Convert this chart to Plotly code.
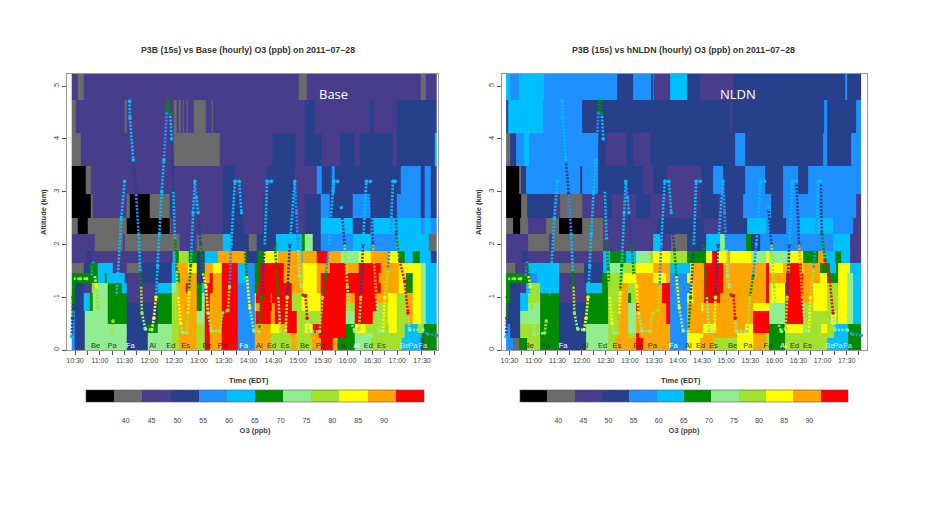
import plotly.graph_objects as go

# O3 classes, lowest to highest
class_keys = "KGPNBLDMVYOR"
class_colors = ["#000000", "#6b6b6b", "#483D8B", "#27408B", "#1E90FF", "#00BFFF",
                "#008B00", "#90EE90", "#A2E22F", "#FFFF00", "#FFA500", "#FF0000"]
cbar_labels = ["40", "45", "50", "55", "60", "65", "70", "75", "80", "85", "90"]

# altitude layer edges (km), bottom to top
alt_edges = [0, 0.22, 0.32, 0.5, 0.73, 0.89, 1.08, 1.27, 1.46, 1.65, 1.88, 2.19, 2.5, 2.95, 3.48, 4.11, 4.73, 5.23]
time_end = 468  # minutes after 10:00

# each row: class letter + start minute after 10:00; rows top to bottom
base_rows = [
 "P26 G33 P41 G301 P310 G449 P455",
 "G26 P31 G90 P92 G150 P153 G155 P158 G160 P162 G165 P167 G174 P188 G195 P197 N308 P320 N387 P392 N419",
 "G26 P37 G150 P205 N269 P297 N308 P329 N350 P368 N375 P415 N419 L465",
 "K26 G43 P49 N209 P223 N262 P296 B322 N329 B341 N344 B424 N449 B453 N461",
 "K26 G49 P52 G92 K96 G121 N145 P149 N209 P233 N257 P298 N308 N328 B328 N338 B366 N388 B419 N449 B453 N461",
 "G26 K33 G45 K92 G145 P146 N209 P233 N257 P298 N308 L328 N366 L388 L419 B449 L453 B461",
 "P26 G54 P88 G90 P157 P157 G177 L209 N218 G240 N250 L273 D304 M308 N318 B328 L366 B388 L419 G458",
 "P26 N44 P50 L148 D152 V156 D168 N177 L187 O203 N237 D251 Y259 O275 L304 O306 R322 O336 M352 Y374 O388 Y410 D422 L429 D439 L447 N461",
 "G26 N40 D48 L58 P76 G92 N110 L147 O152 Y167 N177 O187 Y197 R207 L227 B237 D247 R253 O283 Y306 O322 R338 O358 R374 O400 Y422 M449 L455",
 "D26 L58 D66 L68 P90 N110 N130 L147 D153 O157 N177 O187 R193 O197 R207 L227 B237 D247 R253 O283 Y306 O322 R328 R358 O398 Y422 D430 Y439 M449 L455",
 "D26 N30 P40 V50 M54 D70 L86 P92 L130 M147 O153 R164 O167 D177 L183 R187 O197 R207 B227 D247 R251 R283 O292 Y306 O322 R328 R358 R398 O400 Y422 D430 Y439 M449 L455",
 "D26 N30 L40 D48 M52 D70 P92 D130 V147 O153 D177 M183 R187 O193 R207 B227 Y247 R249 O267 R268 V292 Y304 R328 O358 R368 O395 Y408 M419 V420 O431 Y439 M449 L455",
 "N30 L40 D48 M52 D70 N92 D130 V147 O153 D177 M183 R187 O193 R207 B227 Y247 O249 R253 O268 R272 V292 Y304 R328 V358 R368 V395 Y408 V419 O431 Y439 M449 L455",
 "B26 N30 M42 D70 N92 D130 V147 O155 M177 R187 O193 R207 B227 O247 R249 O267 R272 V298 R328 M358 R368 V390 Y408 V419 O431 Y439 M449 L455",
 "B26 N30 M42 M70 N92 D118 M130 V147 O155 V177 R187 O193 R207 B227 O247 Y267 O278 R286 V298 Y308 R318 D358 Y368 V382 Y410 V419 L429 V445 D452",
 "B26 N30 M42 M70 N92 M118 V147 O155 V177 R187 O193 R207 B227 O247 V267 O290 V298 O315 R325 D358 M368 V390 L429 D450",
 "B26 N30 M42 N92 M118 V147 O155 V177 R187 O193 R207 B227 O247 V267 O292 V298 O316 R328 O342 D348 M368 V388 L426 N449 D452",
]

nldn_rows = [
 "L26 B31 L42 B73 N164 B184 N207 B209 N210 P211 L230 N251 P267 N309 B448 N451",
 "N26 L28 B72 N121 P305 N307 B422 N425 B462",
 "G26 N31 B39 L48 B55 N141 P151 N176 P184 N205 B311 N323 B421 N426 B456",
 "K26 G42 N45 B51 N118 B121 N141 P197 N209 P226 N269 B284 N296 B323 N348 B371 N390 B402",
 "K26 G45 N52 P85 G93 P120 N147 P158 N188 P205 N269 P290 N300 B321 N356 B371 P462",
 "G26 K35 G43 G53 P53 G76 K92 G120 P147 N214 N270 P271 N300 L326 B350 N355 B375 L392 B433 P458",
 "P26 G53 P79 G84 P147 L209 P218 G232 N251 L275 M292 B298 D325 N331 B342 B375 L433 P454",
 "P26 N46 P54 L147 D155 L176 M188 V205 Y209 V230 D251 Y275 R283 Y289 O301 Y305 M331 Y350 M354 Y379 D396 O415 L423 D436 L443 P454",
 "G26 P37 L53 G92 N123 L147 M155 V172 Y188 O209 L230 Y255 O259 R272 O296 R350 Y354 O371 R379 Y394 O396 D417 L429 D437 Y439 L454",
 "D26 B56 L64 P92 N123 D145 V155 Y172 O188 Y209 O225 B230 Y251 O257 R272 O296 R350 O354 R375 O396 Y417 D425 Y439 M450 L458",
 "D26 N31 P43 L51 V57 L68 P92 L126 D145 V153 O168 V178 O188 R220 B230 Y255 O259 R272 O296 R350 Y354 R373 O396 Y408 V425 Y439 M450 L458",
 "D26 N31 L43 V53 D68 P92 D126 V153 O168 D178 V182 O188 R220 B230 Y251 O259 R272 O292 R350 Y354 R373 O396 Y408 V425 Y439 M450 L458",
 "N31 L43 M53 D68 N92 D126 V153 O164 M178 R188 O192 R225 B230 O251 Y269 O271 Y334 M354 R373 V396 Y408 V425 Y439 M450 L458",
 "N31 M43 D68 N92 D126 V153 O164 M178 O188 R225 B230 O251 O271 R334 M354 R373 V396 Y430 V437 Y439 M450 L458",
 "B26 N31 V43 D68 N92 M126 V153 O164 M178 O188 B230 O251 Y271 O288 Y323 R334 D354 Y373 V396 Y418 V425 L434 D452",
 "B26 N31 V43 D68 N92 M126 V153 O164 V178 R188 O192 B230 Y251 O271 Y314 O333 V350 D354 V373 V420 L434 D452",
 "B26 G35 D42 V52 D68 N92 M126 V153 O162 V188 R188 O197 B230 Y251 O268 V285 Y314 O333 V350 D354 V373 L425 D452",
]

# flight track: minute after 10:00, altitude km (None = gap), class letter
track = [
 (26,.25,"L"),(27,.6,"N"),(27.5,1.0,"D"),(28.5,1.35,"D"),(36,1.35,"V"),(44,1.35,"M"),(50,1.35,"D"),(52,1.65,"B"),(54,1.4,"D"),(56,1.2,"Y"),(58,.8,"V"),(61,.3,"M"),(74,.32,"M"),(76,.55,"V"),(80,1.0,"D"),(82,1.45,"L"),(86,2.5,"L"),(90,3.2,"L"),(91,None,"L"),
 (96,4.72,"L"),(96.5,4.4,"L"),(100.5,3.6,"L"),(104,2.95,"N"),(107,2.2,"B"),(109,1.5,"L"),(110,1.2,"D"),(111,.7,"V"),(115,.4,"M"),(123,.38,"M"),(125.5,.6,"Y"),(128,1.0,"Y"),(130,1.6,"L"),(132,2.2,"L"),(135,3,"L"),(137.6,3.6,"L"),(141,4.5,"B"),(142.5,4.72,"D"),(145,4.5,"D"),(147,4,"L"),(149,3,"N"),(151,2.1,"L"),(153,1.5,"D"),(155,1.0,"V"),(158,.5,"Y"),(160,.33,"M"),(165,.33,"M"),(167,.7,"V"),(168,1.1,"Y"),(170,1.6,"D"),(173,2.6,"L"),(175,3.2,"L"),(177,2.9,"B"),(179,2.6,"L"),(182,2.0,"N"),(185,1.45,"D"),(188.5,1.2,"Y"),(191,.7,"Y"),(195,.36,"M"),(205,.36,"M"),(208.5,.7,"V"),(215,.75,"V"),(217,1.2,"V"),(219,2,"B"),(223.5,3.2,"L"),(228.7,3.2,"L"),(231.5,2.6,"L"),(235.5,1.9,"N"),(238,1.4,"D"),(241.5,.8,"Y"),(246.4,.36,"M"),(253,.36,"M"),(255.7,1.0,"D"),(259.7,2.0,"N"),(262.5,3.2,"L"),(267.8,3.2,"L"),(272,2.0,"N"),(276,1.0,"D"),(278.6,.36,"M"),(285,.36,"M"),(286.7,1.0,"Y"),(290,2.0,"N"),(296,3.2,"L"),(298,2.6,"B"),(300,1.9,"B"),(302,1.4,"M"),(304,1.2,"M"),(305,None,"M"),
 (306,1.04,"D"),(309,1.03,"R"),(311,.6,"R"),(313,.35,"M"),(326,.35,"M"),(329.5,1.0,"V"),(333.5,1.4,"D"),(337.5,2.0,"B"),(343,3.2,"L"),(348,3.2,"L"),(349,None,"L"),(352.4,2.7,"L"),(356.4,2,"N"),(359.7,1.2,"V"),(362.5,.6,"M"),(368.5,.35,"M"),(373.8,.4,"M"),(375.8,1.0,"V"),(378.6,2,"N"),(382.6,3.2,"L"),(387.5,3.2,"L"),(390.7,2,"N"),(394.7,1.0,"O"),(398.7,.35,"M"),(402.8,.35,"M"),(404.8,1.0,"Y"),(408.8,1.5,"V"),(412.9,2.5,"B"),(414.9,3.2,"L"),(417.7,3.2,"L"),(419,2.2,"N"),(423,1.7,"D"),(429,1.3,"R"),(433,.7,"R"),(435,.38,"M"),(451,.38,"M"),(457,.3,"B"),(468,.28,"B"),
]

# overflight labels
site_minutes = [55, 75, 97, 124, 146, 164, 190, 208, 234, 253, 268, 284, 308, 327, 352, 371, 385, 401, 429, 439, 451]
site_names = ["Be", "Pa", "Fa", "Al", "Ed", "Es", "Be", "Pa", "Fa", "Al", "Ed", "Es", "Be", "Pa", "Fa", "Al", "Ed", "Es", "Be", "Pa", "Fa"]
site_colors = ["#333", "#333", "#fff", "#333", "#333", "#333", "#333", "#333", "#fff", "#333", "#333", "#333",
               "#333", "#333", "#333", "#fff", "#333", "#333", "#ddf", "#ddf", "#ddf"]

time_ticks = list(range(30, 466, 15))
time_labels = [f"{10 + t // 60}:{t % 60:02d}" if t % 30 == 0 else "" for t in time_ticks]

# the page has an 8px body margin, so the figure itself starts 8px in
W, H = 912, 506
OX, OY = 8, 8
FONT = "Liberation Sans"
GREY = "#555555"
n_classes = len(class_colors)
scale = []
for i, c in enumerate(class_colors):
    scale += [[i / n_classes, c], [(i + 1) / n_classes, c]]


def px(x):
    return (x - OX) / W


def py(y):
    return 1 - (y - OY) / H


def parse(row):
    return [(int(tok[1:]), class_keys.index(tok[0])) for tok in row.split()]


def grid(rows):
    parsed = [parse(r) for r in rows][::-1]
    edges = sorted({t for r in parsed for t, _ in r} | {26, time_end})
    z = []
    for r in parsed:
        line = []
        for a in edges[:-1]:
            cur = r[0][1]
            for t, c in r:
                if t <= a:
                    cur = c
            line.append(cur + 0.5)
        z.append(line)
    return edges, z


fig = go.Figure()
panels = [
    dict(rows=base_rows, box=(67, 438), rng=(20.3, 469.4), cb=(86, 424), tick=(125.7, 384), ax=("x", "y"),
         title="P3B (15s) vs Base (hourly) O3 (ppb) on 2011−07−28", tx=248, note="Base", nx=333),
    dict(rows=nldn_rows, box=(502, 866.7), rng=(20.9, 474.9), cb=(520, 848), tick=(558.3, 809.3), ax=("x2", "y2"),
         title="P3B (15s) vs hNLDN (hourly) O3 (ppb) on 2011−07−28", tx=683, note="NLDN", nx=738),
]
top, bottom = 74, 350
annotations = []
for k, p in enumerate(panels):
    xa, ya = p["ax"]
    edges, z = grid(p["rows"])
    x0, x1 = p["cb"]
    unit = (x1 - x0) / n_classes
    spacing = (p["tick"][1] - p["tick"][0]) / (len(cbar_labels) - 1)
    tickvals = [(p["tick"][0] + i * spacing - x0) / unit for i in range(len(cbar_labels))]
    fig.add_trace(go.Heatmap(
        x=edges, y=alt_edges, z=z, zmin=0, zmax=n_classes, colorscale=scale, xaxis=xa, yaxis=ya,
        hoverinfo="skip",
        colorbar=dict(orientation="h", x=px((x0 + x1) / 2), xanchor="center", y=py(390), yanchor="top",
                      len=x1 - x0, lenmode="pixels", thickness=12, thicknessmode="pixels", xpad=0, ypad=0,
                      tickmode="array", tickvals=tickvals, ticktext=cbar_labels, ticks="outside", ticklen=13,
                      tickcolor="rgba(255,255,255,0)", tickfont=dict(size=7, color="#444", family=FONT),
                      outlinecolor="#555", outlinewidth=0.6,
                      title=dict(text="<b>O3 (ppb)</b>", side="bottom", font=dict(size=7.5, color="#444", family=FONT))),
    ))
    # track: one dotted line trace and one marker trace per class
    for c_idx, key in enumerate(class_keys):
        lx, ly, mx, my = [], [], [], []
        for i, (t, a, c) in enumerate(track):
            if a is None or c != key:
                continue
            mx.append(t)
            my.append(a)
            if i > 0 and track[i - 1][1] is not None:
                lx += [track[i - 1][0], t, None]
                ly += [track[i - 1][1], a, None]
        if not mx:
            continue
        fig.add_trace(go.Scatter(x=lx, y=ly, mode="lines", xaxis=xa, yaxis=ya, showlegend=False, hoverinfo="skip",
                                 line=dict(color=class_colors[c_idx], width=2.6, dash="2px,1.5px")))
        fig.add_trace(go.Scatter(x=mx, y=my, mode="markers", xaxis=xa, yaxis=ya, showlegend=False, hoverinfo="skip",
                                 marker=dict(color=class_colors[c_idx], size=3.5)))
    fig.add_trace(go.Scatter(x=site_minutes, y=[0.08] * len(site_minutes), text=site_names, mode="text",
                             xaxis=xa, yaxis=ya, showlegend=False, hoverinfo="skip",
                             textfont=dict(size=7.5, color=site_colors, family=FONT)))
    suffix = "" if k == 0 else "2"
    fig.update_layout({
        "xaxis" + suffix: dict(domain=[px(p["box"][0]), px(p["box"][1])], range=list(p["rng"]), anchor=ya,
                               tickmode="array", tickvals=time_ticks, ticktext=time_labels, ticks="outside", ticklen=4,
                               tickcolor=GREY, tickwidth=0.8, showline=True, linecolor="#999", mirror=True, linewidth=1,
                               showgrid=False, zeroline=False, tickangle=0,
                               tickfont=dict(size=7, color="#444", family=FONT)),
        "yaxis" + suffix: dict(domain=[py(bottom), py(top)], range=[0, 5.23], anchor=xa,
                               tickmode="array", tickvals=[0, 1, 2, 3, 4, 5], ticktext=["0", "1", "2", "3", "4", "5"],
                               ticks="outside", ticklen=4, tickcolor=GREY, tickwidth=0.8, tickangle=-90,
                               showline=True, linecolor="#999", mirror=True, linewidth=1, showgrid=False, zeroline=False,
                               tickfont=dict(size=7.5, color="#444", family=FONT)),
    })
    cx = (p["box"][0] + p["box"][1]) / 2
    shared = dict(xref="paper", yref="paper", showarrow=False, xanchor="center", yanchor="middle")
    annotations += [
        dict(text=f"<b>{p['title']}</b>", x=px(p["tx"]), y=py(50),
             font=dict(size=8.8, color="#333", family=FONT), **shared),
        dict(text=p["note"], x=px(p["nx"]), y=py(94),
             font=dict(size=13, color="#ffffff", family="Open Sans"), **shared),
        dict(text="<b>Time (EDT)</b>", x=px(cx - 3), y=py(380),
             font=dict(size=7.5, color="#333", family=FONT), **shared),
        dict(text="<b>Altitude (km)</b>", x=px(p["box"][0] - 24), y=py(212), textangle=-90,
             font=dict(size=7.5, color="#333", family=FONT), **shared),
    ]

fig.update_layout(width=W, height=H, margin=dict(l=0, r=0, t=0, b=0), paper_bgcolor="white", plot_bgcolor="white",
                  showlegend=False, annotations=annotations)
fig.write_html("out.html")
